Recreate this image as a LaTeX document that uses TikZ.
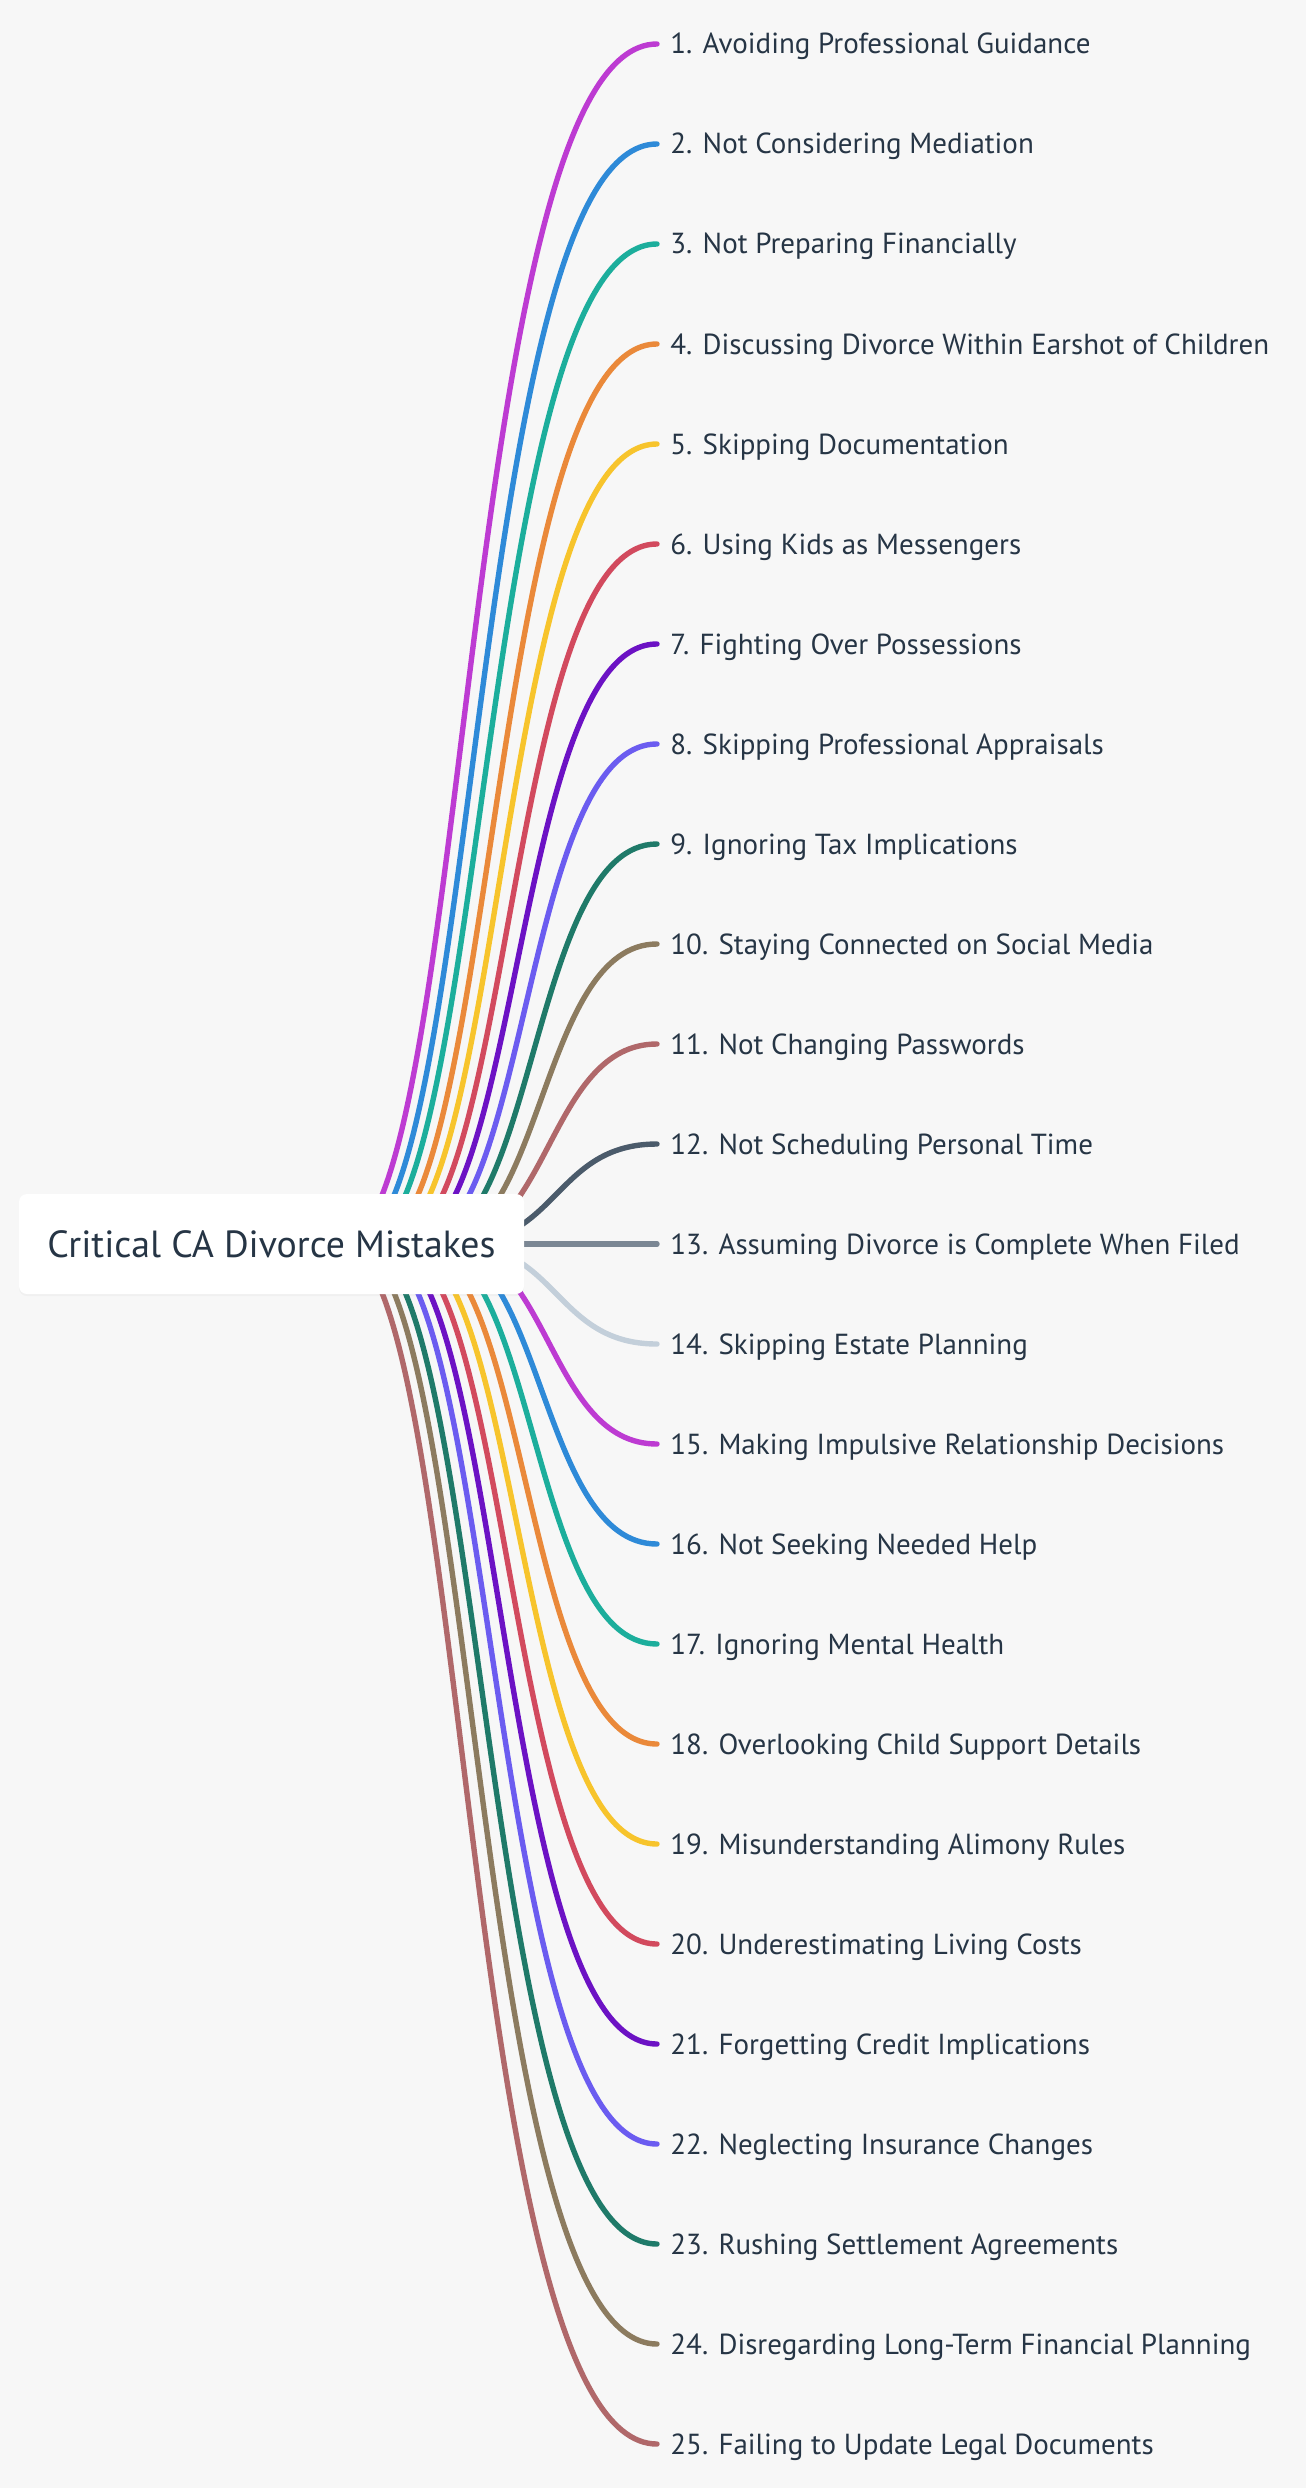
\documentclass[tikz,border=0pt]{standalone}
\usepackage{fontspec}
\setmainfont{PT Sans}
\usetikzlibrary{shadows}

\definecolor{paper}{HTML}{F7F7F7}
\definecolor{ink}{HTML}{263545}
\definecolor{cmagenta}{HTML}{BD3BD2}
\definecolor{cblue}{HTML}{2E8AD8}
\definecolor{cteal}{HTML}{1CAE9C}
\definecolor{corange}{HTML}{EA893A}
\definecolor{cyellow}{HTML}{F7C42C}
\definecolor{cred}{HTML}{D24A5E}
\definecolor{cpurple}{HTML}{6C12C4}
\definecolor{clavender}{HTML}{6B5CF0}
\definecolor{cgreen}{HTML}{1F7A69}
\definecolor{ckhaki}{HTML}{8C7B5F}
\definecolor{crose}{HTML}{B0686A}
\definecolor{cslate}{HTML}{4B5B6B}
\definecolor{cgrey}{HTML}{7B8794}
\definecolor{cmist}{HTML}{C3CFDA}

\tikzset{
  branch/.style={line width=2.7pt, line cap=round},
  leaf/.style={anchor=west, inner sep=0pt, text height=10pt, text depth=0pt,
    text=ink, font=\fontsize{14.5}{17}\selectfont},
  rootbox/.style={fill=white, rounded corners=4pt, minimum width=252.5pt,
    minimum height=50pt, inner sep=0pt, text height=13.3pt, text depth=0pt,
    text=ink, font=\fontsize{18.9}{23}\selectfont,
    drop shadow={shadow xshift=0pt, shadow yshift=-1pt, opacity=.06}}
}

\begin{document}
\begin{tikzpicture}[x=0.5pt,y=-0.5pt]
\fill[paper] (0,0) rectangle (1306,2488);

\node[leaf] (l1) at (670,44) {1. Avoiding Professional Guidance};
\node[leaf] (l2) at (670,144) {2. Not Considering Mediation};
\node[leaf] (l3) at (670,244) {3. Not Preparing Financially};
\node[leaf] (l4) at (670,344) {4. Discussing Divorce Within Earshot of Children};
\node[leaf] (l5) at (670,444) {5. Skipping Documentation};
\node[leaf] (l6) at (670,544) {6. Using Kids as Messengers};
\node[leaf] (l7) at (670,644) {7. Fighting Over Possessions};
\node[leaf] (l8) at (670,744) {8. Skipping Professional Appraisals};
\node[leaf] (l9) at (670,844) {9. Ignoring Tax Implications};
\node[leaf] (l10) at (670,944) {10. Staying Connected on Social Media};
\node[leaf] (l11) at (670,1044) {11. Not Changing Passwords};
\node[leaf] (l12) at (670,1144) {12. Not Scheduling Personal Time};
\node[leaf] (l13) at (670,1244) {13. Assuming Divorce is Complete When Filed};
\node[leaf] (l14) at (670,1344) {14. Skipping Estate Planning};
\node[leaf] (l15) at (670,1444) {15. Making Impulsive Relationship Decisions};
\node[leaf] (l16) at (670,1544) {16. Not Seeking Needed Help};
\node[leaf] (l17) at (670,1644) {17. Ignoring Mental Health};
\node[leaf] (l18) at (670,1744) {18. Overlooking Child Support Details};
\node[leaf] (l19) at (670,1844) {19. Misunderstanding Alimony Rules};
\node[leaf] (l20) at (670,1944) {20. Underestimating Living Costs};
\node[leaf] (l21) at (670,2044) {21. Forgetting Credit Implications};
\node[leaf] (l22) at (670,2144) {22. Neglecting Insurance Changes};
\node[leaf] (l23) at (670,2244) {23. Rushing Settlement Agreements};
\node[leaf] (l24) at (670,2344) {24. Disregarding Long-Term Financial Planning};
\node[leaf] (l25) at (670,2444) {25. Failing to Update Legal Documents};

\coordinate (o0) at (500,1244);
\coordinate (o1) at (456,1244);
\coordinate (o2) at (445,1244);
\coordinate (o3) at (435,1244);
\coordinate (o4) at (424,1244);
\coordinate (o5) at (414,1244);
\coordinate (o6) at (403,1244);
\coordinate (o7) at (393,1244);
\coordinate (o8) at (382,1244);
\coordinate (o9) at (372,1244);
\coordinate (o10) at (361,1244);
\coordinate (o11) at (351,1244);
\coordinate (o12) at (340,1244);

\draw[branch,cmagenta] (o12) .. controls +(131,0) and +(-198,0) .. ([xshift=-6.5pt]l1.west);
\draw[branch,cblue] (o11) .. controls +(129,0) and +(-188,0) .. ([xshift=-6.5pt]l2.west);
\draw[branch,cteal] (o10) .. controls +(127,0) and +(-179,0) .. ([xshift=-6.5pt]l3.west);
\draw[branch,corange] (o9) .. controls +(125,0) and +(-169,0) .. ([xshift=-6.5pt]l4.west);
\draw[branch,cyellow] (o8) .. controls +(123,0) and +(-160,0) .. ([xshift=-6.5pt]l5.west);
\draw[branch,cred] (o7) .. controls +(120,0) and +(-151,0) .. ([xshift=-6.5pt]l6.west);
\draw[branch,cpurple] (o6) .. controls +(118,0) and +(-142,0) .. ([xshift=-6.5pt]l7.west);
\draw[branch,clavender] (o5) .. controls +(115,0) and +(-134,0) .. ([xshift=-6.5pt]l8.west);
\draw[branch,cgreen] (o4) .. controls +(112,0) and +(-125,0) .. ([xshift=-6.5pt]l9.west);
\draw[branch,ckhaki] (o3) .. controls +(109,0) and +(-117,0) .. ([xshift=-6.5pt]l10.west);
\draw[branch,crose] (o2) .. controls +(105,0) and +(-109,0) .. ([xshift=-6.5pt]l11.west);
\draw[branch,cslate] (o1) .. controls +(102,0) and +(-102,0) .. ([xshift=-6.5pt]l12.west);

\draw[branch,cgrey] (o0) -- ([xshift=-6.5pt]l13.west);

\draw[branch,cmist] (o1) .. controls +(102,0) and +(-102,0) .. ([xshift=-6.5pt]l14.west);
\draw[branch,cmagenta] (o2) .. controls +(105,0) and +(-109,0) .. ([xshift=-6.5pt]l15.west);
\draw[branch,cblue] (o3) .. controls +(109,0) and +(-117,0) .. ([xshift=-6.5pt]l16.west);
\draw[branch,cteal] (o4) .. controls +(112,0) and +(-125,0) .. ([xshift=-6.5pt]l17.west);
\draw[branch,corange] (o5) .. controls +(115,0) and +(-134,0) .. ([xshift=-6.5pt]l18.west);
\draw[branch,cyellow] (o6) .. controls +(118,0) and +(-142,0) .. ([xshift=-6.5pt]l19.west);
\draw[branch,cred] (o7) .. controls +(120,0) and +(-151,0) .. ([xshift=-6.5pt]l20.west);
\draw[branch,cpurple] (o8) .. controls +(123,0) and +(-160,0) .. ([xshift=-6.5pt]l21.west);
\draw[branch,clavender] (o9) .. controls +(125,0) and +(-169,0) .. ([xshift=-6.5pt]l22.west);
\draw[branch,cgreen] (o10) .. controls +(127,0) and +(-179,0) .. ([xshift=-6.5pt]l23.west);
\draw[branch,ckhaki] (o11) .. controls +(129,0) and +(-188,0) .. ([xshift=-6.5pt]l24.west);
\draw[branch,crose] (o12) .. controls +(131,0) and +(-198,0) .. ([xshift=-6.5pt]l25.west);

\node[rootbox] (root) at (271.5,1244) {Critical CA Divorce Mistakes};

\end{tikzpicture}
\end{document}
